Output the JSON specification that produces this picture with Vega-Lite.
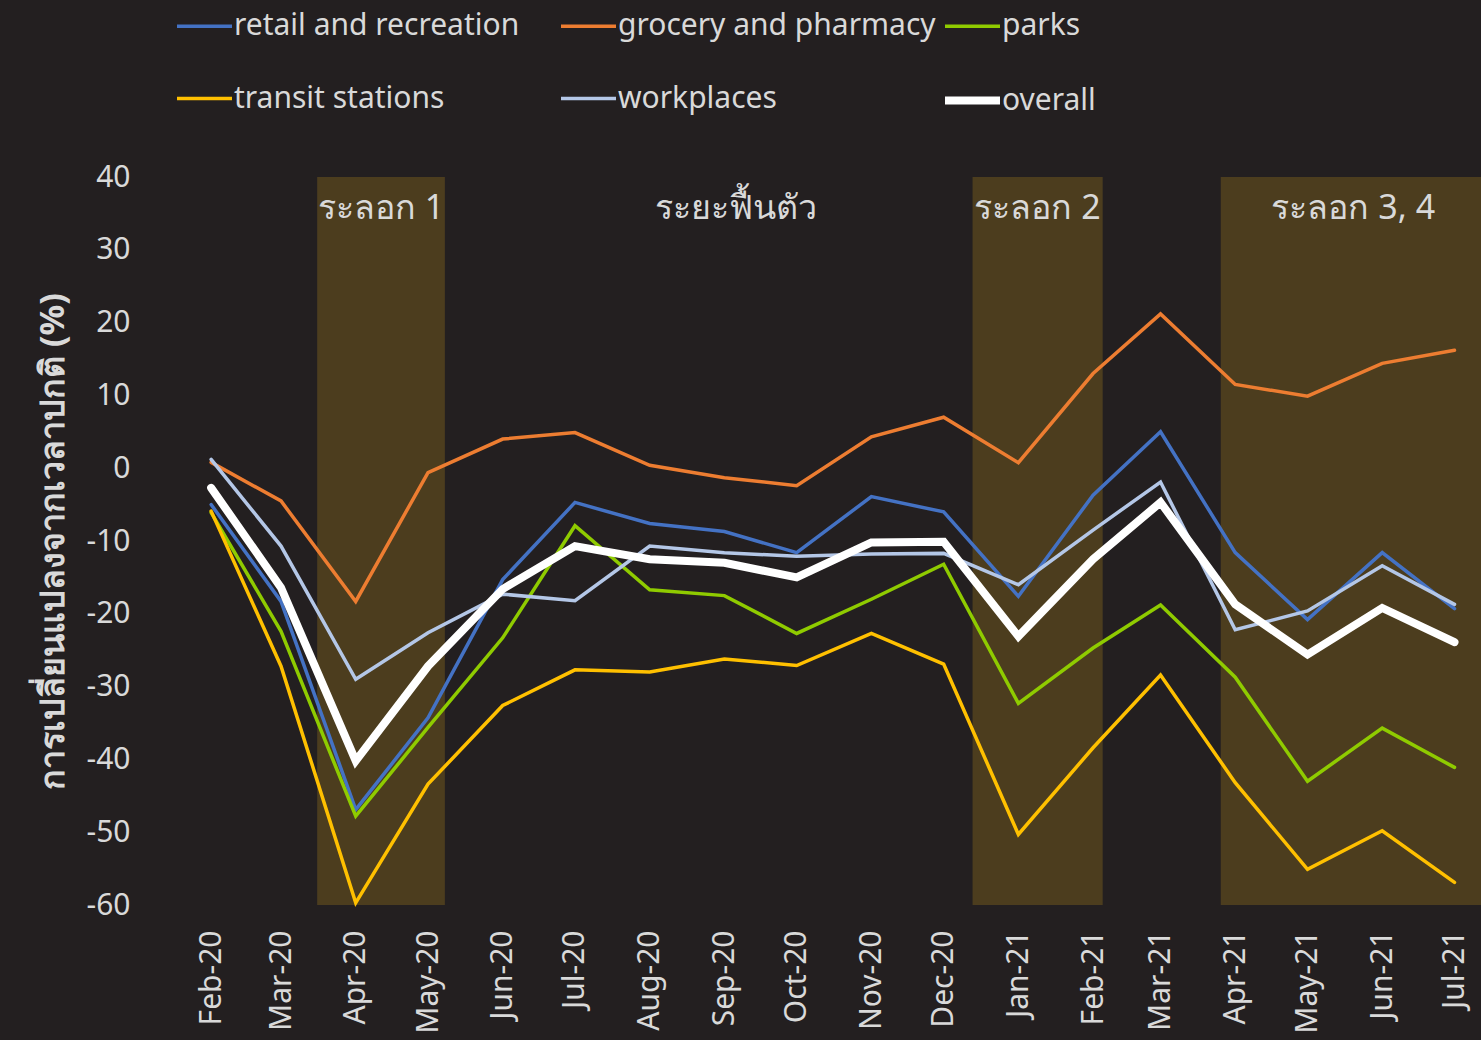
{
  "$schema": "https://vega.github.io/schema/vega-lite/v6.json",
  "width": 1306,
  "height": 728,
  "autosize": {"type": "none"},
  "padding": {"left": 175, "top": 177, "right": 0, "bottom": 135},
  "background": "#231f20",
  "config": {
    "font": "Noto Sans",
    "view": {"stroke": null},
    "axisX": {"grid": false, "domain": false, "ticks": false, "labelAngle": -90, "labelPadding": 25, "labelFontSize": 30, "labelColor": "#d9d9d9", "labelOverlap": false, "labelFlush": false},
    "axisY": {"domain": false, "ticks": false, "labelPadding": 45, "labelFontSize": 30, "labelColor": "#d9d9d9", "gridWidth": 2, "titleFontSize": 34, "titleFontWeight": "bold", "titleColor": "#d9d9d9", "titlePadding": 16}
  },
  "datasets": {
    "waves": [
      {"start": "2020-03-16T00:00:00", "end": "2020-05-08T00:00:00"},
      {"start": "2020-12-13T00:00:00", "end": "2021-02-05T00:00:00"},
      {"start": "2021-03-26T00:00:00", "end": "2021-07-12T00:00:00"}
    ],
    "labels": [
      {"date": "2020-04-11T12:00:00", "text": "ระลอก 1"},
      {"date": "2020-09-06T00:00:00", "text": "ระยะฟื้นตัว"},
      {"date": "2021-01-09T00:00:00", "text": "ระลอก 2"},
      {"date": "2021-05-20T00:00:00", "text": "ระลอก 3, 4"}
    ],
    "mobility": [
      {"month": "2020-02-01T00:00:00", "retail and recreation": -5.0, "grocery and pharmacy": 0.8, "parks": -6.1, "transit stations": -5.9, "workplaces": 1.2, "overall": -2.7},
      {"month": "2020-03-01T00:00:00", "retail and recreation": -18.3, "grocery and pharmacy": -4.5, "parks": -22.4, "transit stations": -27.2, "workplaces": -10.7, "overall": -16.4},
      {"month": "2020-04-01T00:00:00", "retail and recreation": -46.9, "grocery and pharmacy": -18.3, "parks": -47.8, "transit stations": -59.7, "workplaces": -29.0, "overall": -40.2},
      {"month": "2020-05-01T00:00:00", "retail and recreation": -34.3, "grocery and pharmacy": -0.6, "parks": -35.6, "transit stations": -43.4, "workplaces": -22.6, "overall": -27.2},
      {"month": "2020-06-01T00:00:00", "retail and recreation": -15.3, "grocery and pharmacy": 4.0, "parks": -23.3, "transit stations": -32.6, "workplaces": -17.3, "overall": -16.6},
      {"month": "2020-07-01T00:00:00", "retail and recreation": -4.7, "grocery and pharmacy": 4.9, "parks": -7.9, "transit stations": -27.7, "workplaces": -18.2, "overall": -10.7},
      {"month": "2020-08-01T00:00:00", "retail and recreation": -7.6, "grocery and pharmacy": 0.4, "parks": -16.7, "transit stations": -28.0, "workplaces": -10.7, "overall": -12.5},
      {"month": "2020-09-01T00:00:00", "retail and recreation": -8.7, "grocery and pharmacy": -1.3, "parks": -17.5, "transit stations": -26.2, "workplaces": -11.6, "overall": -13.0},
      {"month": "2020-10-01T00:00:00", "retail and recreation": -11.6, "grocery and pharmacy": -2.4, "parks": -22.7, "transit stations": -27.1, "workplaces": -12.1, "overall": -15.0},
      {"month": "2020-11-01T00:00:00", "retail and recreation": -3.9, "grocery and pharmacy": 4.3, "parks": -18.0, "transit stations": -22.7, "workplaces": -11.8, "overall": -10.2},
      {"month": "2020-12-01T00:00:00", "retail and recreation": -6.0, "grocery and pharmacy": 7.0, "parks": -13.2, "transit stations": -26.9, "workplaces": -11.7, "overall": -10.1},
      {"month": "2021-01-01T00:00:00", "retail and recreation": -17.6, "grocery and pharmacy": 0.75, "parks": -32.3, "transit stations": -50.3, "workplaces": -16.0, "overall": -23.1},
      {"month": "2021-02-01T00:00:00", "retail and recreation": -3.7, "grocery and pharmacy": 13.0, "parks": -24.7, "transit stations": -38.4, "workplaces": -8.5, "overall": -12.5},
      {"month": "2021-03-01T00:00:00", "retail and recreation": 5.0, "grocery and pharmacy": 21.2, "parks": -18.8, "transit stations": -28.4, "workplaces": -1.9, "overall": -4.7},
      {"month": "2021-04-01T00:00:00", "retail and recreation": -11.6, "grocery and pharmacy": 11.5, "parks": -28.7, "transit stations": -43.2, "workplaces": -22.2, "overall": -18.7},
      {"month": "2021-05-01T00:00:00", "retail and recreation": -20.8, "grocery and pharmacy": 9.9, "parks": -43.0, "transit stations": -55.1, "workplaces": -19.6, "overall": -25.6},
      {"month": "2021-06-01T00:00:00", "retail and recreation": -11.6, "grocery and pharmacy": 14.4, "parks": -35.7, "transit stations": -49.8, "workplaces": -13.4, "overall": -19.2},
      {"month": "2021-07-01T00:00:00", "retail and recreation": -19.3, "grocery and pharmacy": 16.2, "parks": -41.1, "transit stations": -56.9, "workplaces": -18.7, "overall": -23.9}
    ]
  },
  "layer": [
    {
      "data": {"name": "waves"},
      "mark": {"type": "rect", "color": "#67511e", "opacity": 0.6, "clip": true},
      "encoding": {
        "x": {"field": "start", "type": "temporal", "title": null, "scale": {"domain": [{"year": 2020, "month": 1, "date": 17}, {"year": 2021, "month": 7, "date": 12}]}},
        "x2": {"field": "end"},
        "y": {"datum": 40, "type": "quantitative", "scale": {"domain": [-60, 40], "nice": false, "zero": false}},
        "y2": {"datum": -60}
      }
    },
    {
      "data": {"name": "labels"},
      "mark": {"type": "text", "fontSize": 34, "color": "#d9d9d9", "baseline": "middle", "align": "center"},
      "encoding": {
        "x": {"field": "date", "type": "temporal", "title": null, "scale": {"domain": [{"year": 2020, "month": 1, "date": 17}, {"year": 2021, "month": 7, "date": 12}]}},
        "y": {"datum": 35.6, "type": "quantitative", "scale": {"domain": [-60, 40], "nice": false, "zero": false}},
        "text": {"field": "text"}
      }
    },
    {
      "data": {"name": "mobility"},
      "transform": [
        {"fold": ["retail and recreation", "grocery and pharmacy", "parks", "transit stations", "workplaces", "overall"], "as": ["series", "value"]}
      ],
      "mark": {"type": "line", "strokeCap": "round", "strokeJoin": "miter"},
      "encoding": {
        "x": {
          "field": "month", "type": "temporal", "title": null,
          "scale": {"domain": [{"year": 2020, "month": 1, "date": 17}, {"year": 2021, "month": 7, "date": 12}]},
          "axis": {"format": "%b-%y", "tickCount": {"interval": "month", "step": 1}}
        },
        "y": {
          "field": "value", "type": "quantitative",
          "title": "การเปลี่ยนแปลงจากเวลาปกติ (%)",
          "scale": {"domain": [-60, 40], "nice": false, "zero": false},
          "axis": {
            "values": [-60, -50, -40, -30, -20, -10, 0, 10, 20, 30, 40],
            "labelExpr": "datum.value + ''",
            "gridColor": {"condition": {"test": "datum.value === 0", "value": "#d9d9d9"}, "value": "#595959"}
          }
        },
        "color": {
          "field": "series", "type": "nominal",
          "scale": {
            "domain": ["retail and recreation", "grocery and pharmacy", "parks", "transit stations", "workplaces", "overall"],
            "range": ["#4472c4", "#ed7d31", "#8fcb00", "#ffc000", "#b4c7e7", "#ffffff"]
          },
          "legend": {
            "title": null, "orient": "none", "legendX": -2, "legendY": -182, "direction": "horizontal", "columns": 3,
            "gridAlign": "all", "columnPadding": -7, "rowPadding": 26, "symbolType": "stroke", "symbolSize": 3025,
            "labelFontSize": 30, "labelColor": "#d9d9d9", "labelOffset": -2, "labelLimit": 0
          }
        },
        "strokeWidth": {
          "field": "series", "type": "nominal",
          "scale": {
            "type": "ordinal",
            "domain": ["retail and recreation", "grocery and pharmacy", "parks", "transit stations", "workplaces", "overall"],
            "range": [3.5, 3.5, 3.5, 3.5, 3.5, 8]
          },
          "legend": {
            "title": null, "orient": "none", "legendX": -2, "legendY": -182, "direction": "horizontal", "columns": 3,
            "gridAlign": "all", "columnPadding": -7, "rowPadding": 26, "symbolType": "stroke", "symbolSize": 3025,
            "labelFontSize": 30, "labelColor": "#d9d9d9", "labelOffset": -2, "labelLimit": 0
          }
        }
      }
    }
  ]
}
